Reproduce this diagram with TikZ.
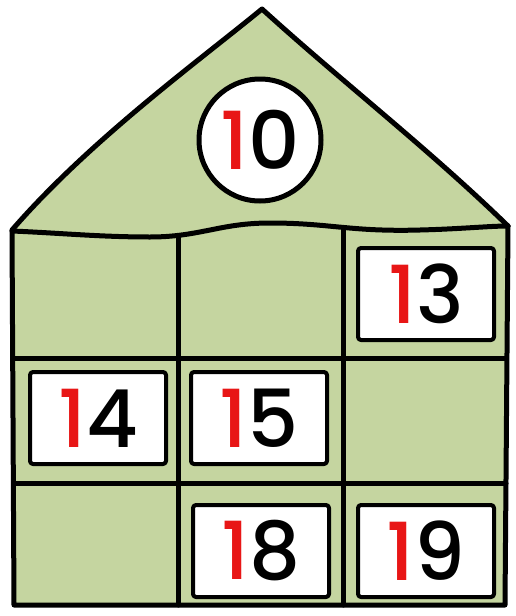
\documentclass[tikz,border=0pt]{standalone}
\usepackage{fontspec}
\setmainfont{Poppins}
\newfontfamily\numfont{Poppins Medium}
\definecolor{housegreen}{RGB}{197,213,160}
\definecolor{numred}{RGB}{232,22,22}
\begin{document}
\begin{tikzpicture}[x=1pt,y=-1pt, line join=round, line cap=round,
  outline/.style={draw=black, line width=5},
  card/.style={draw=black, line width=4, fill=white, rounded corners=3,
    minimum width=136, minimum height=92, inner sep=0,
    font=\numfont\fontsize{80}{80}\selectfont},
  badge/.style={circle, draw=black, line width=5, fill=white,
    minimum size=122, inner sep=0, font=\numfont\fontsize{80}{80}\selectfont},
]
\useasboundingbox (0,0) rectangle (516,616);
% roof and body fill
\fill[housegreen] (12,230) .. controls (90,140) and (200,60) .. (262,9)
  .. controls (340,80) and (430,150) .. (508,226) -- (505,605) -- (14,605) -- cycle;
% roof outline
\draw[outline] (12,230) .. controls (90,140) and (200,60) .. (262,9)
  .. controls (340,80) and (430,150) .. (508,226);
% wavy top of body
\draw[outline] (12,231) .. controls (60,233) and (100,237) .. (150,237)
  .. controls (200,237) and (220,223) .. (270,223)
  .. controls (330,223) and (350,232) .. (420,230)
  .. controls (460,229) and (490,226) .. (508,226);
% body frame
\draw[outline] (12,231) -- (14,605) -- (505,605) -- (508,226);
% grid
\draw[outline] (178,237) -- (178,605);
\draw[outline] (343,228) -- (343,605);
\draw[outline] (14,358) -- (506,358);
\draw[outline] (14,483) -- (506,483);
% badge
\node[badge] (ten) at (260,140) {\textcolor{numred}{1}0};
% cards
\node[card] (c13) at (426,294) {\textcolor{numred}{1}3};
\node[card] (c14) at (98,418) {\textcolor{numred}{1}4};
\node[card] (c15) at (259,418) {\textcolor{numred}{1}5};
\node[card] (c18) at (261,551) {\textcolor{numred}{1}8};
\node[card] (c19) at (426,551) {\textcolor{numred}{1}9};
\end{tikzpicture}
\end{document}
